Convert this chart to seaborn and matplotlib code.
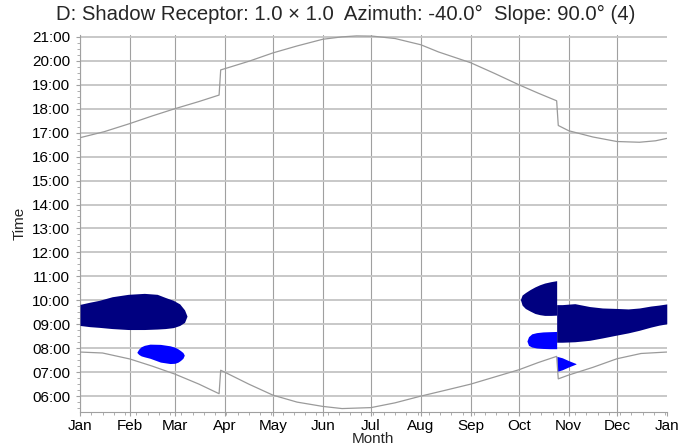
import numpy as np
import pandas as pd
import matplotlib
matplotlib.use("Agg")
import matplotlib.pyplot as plt
import seaborn as sns
from matplotlib.ticker import FixedLocator, MultipleLocator, FuncFormatter

# ---------------- data ----------------
month_labels = ["Jan", "Feb", "Mar", "Apr", "May", "Jun", "Jul", "Aug",
                "Sep", "Oct", "Nov", "Dec", "Jan"]
month_starts = [0, 31, 59, 90, 120, 151, 181, 212, 243, 273, 304, 334, 365]

sunrise_days = [0, 14, 31, 45, 59, 74, 86.5, 87.5, 90, 105, 120, 135, 151, 163,
                181, 196, 212, 227, 243, 258, 273, 285, 296.5, 297.5, 304, 319,
                334, 349, 365]
sunrise_hours = [7.84, 7.8, 7.55, 7.25, 6.92, 6.5, 6.1, 7.08, 7.0, 6.5, 6.04,
                 5.75, 5.57, 5.48, 5.52, 5.72, 6.0, 6.24, 6.5, 6.8, 7.1, 7.4,
                 7.66, 6.72, 6.88, 7.2, 7.56, 7.78, 7.84]

sunset_days = [0, 15, 31, 45, 59, 74, 86.5, 87.5, 90, 105, 120, 135, 151, 163,
               172, 182, 196, 212, 223, 243, 258, 273, 285, 296.5, 297.5, 304,
               319, 334, 348, 358, 365]
sunset_hours = [16.79, 17.04, 17.38, 17.7, 18.0, 18.3, 18.57, 19.62, 19.67,
                19.98, 20.33, 20.62, 20.9, 21.0, 21.04, 21.03, 20.93, 20.67,
                20.37, 19.92, 19.47, 19.0, 18.65, 18.33, 17.3, 17.08, 16.82,
                16.63, 16.6, 16.66, 16.76]

# shadow periods (navy = dark, blue = light)
navy1_days = [0, 6, 12, 20, 30, 40, 48, 53, 58, 62, 65, 66.5]
navy1_low = [8.95, 8.9, 8.87, 8.82, 8.78, 8.78, 8.8, 8.82, 8.86, 8.95, 9.08, 9.33]
navy1_high = [9.83, 9.92, 10.0, 10.15, 10.25, 10.29, 10.25, 10.12, 10.0, 9.85, 9.6, 9.35]

blue1_days = [35.4, 36.5, 38, 40, 43.5, 50, 56, 59, 61, 62.5, 64, 64.8]
blue1_low = [7.82, 7.74, 7.68, 7.64, 7.58, 7.42, 7.36, 7.37, 7.42, 7.49, 7.58, 7.7]
blue1_high = [7.84, 7.96, 8.06, 8.12, 8.17, 8.16, 8.1, 8.04, 7.97, 7.9, 7.82, 7.72]

navy2_days = [274, 275, 277, 280, 283, 286, 289, 293, 296.5]
navy2_low = [10.02, 9.8, 9.66, 9.55, 9.45, 9.4, 9.37, 9.37, 9.38]
navy2_high = [10.04, 10.22, 10.32, 10.45, 10.56, 10.65, 10.72, 10.78, 10.82]

blue2_days = [278, 279, 281, 284, 288, 292, 296.5]
blue2_low = [8.3, 8.12, 8.05, 8.01, 7.99, 7.98, 7.98]
blue2_high = [8.3, 8.48, 8.6, 8.65, 8.68, 8.69, 8.7]

navy3_days = [296.5, 300, 307.8, 317, 325, 334, 341, 348, 355, 360, 365]
navy3_low = [8.25, 8.25, 8.27, 8.33, 8.43, 8.55, 8.64, 8.75, 8.88, 8.96, 9.02]
navy3_high = [9.82, 9.82, 9.86, 9.74, 9.68, 9.66, 9.64, 9.68, 9.76, 9.8, 9.85]

blue3_days = [296.6, 300, 304, 308.5]
blue3_low = [7.03, 7.1, 7.22, 7.34]
blue3_high = [7.66, 7.6, 7.48, 7.36]

# ---------------- plot ----------------
sns.set_theme(style="white")
plt.rcParams["font.family"] = ["Liberation Sans", "DejaVu Sans"]

fig = plt.figure(figsize=(6.96, 4.48), dpi=100)
ax = fig.add_axes([0.115, 0.080, 0.843, 0.842])

NAVY = "#000080"
BLUE = "#0000FF"
for d, lo, hi, c in [(navy1_days, navy1_low, navy1_high, NAVY),
                     (blue1_days, blue1_low, blue1_high, BLUE),
                     (navy2_days, navy2_low, navy2_high, NAVY),
                     (blue2_days, blue2_low, blue2_high, BLUE),
                     (navy3_days, navy3_low, navy3_high, NAVY),
                     (blue3_days, blue3_low, blue3_high, BLUE)]:
    ax.fill_between(d, lo, hi, color=c, linewidth=0, zorder=3)

sun_df = pd.concat([
    pd.DataFrame({"day": sunrise_days, "hour": sunrise_hours, "kind": "sunrise"}),
    pd.DataFrame({"day": sunset_days, "hour": sunset_hours, "kind": "sunset"}),
])
sns.lineplot(data=sun_df, x="day", y="hour", units="kind", estimator=None,
             color="#9a9a9a", linewidth=0.9, sort=False, ax=ax, zorder=4)

ax.set_xlim(0, 365)
ax.set_ylim(5.33, 21.08)

ax.xaxis.set_major_locator(FixedLocator(month_starts))
ax.set_xticklabels(month_labels)
ax.xaxis.set_minor_locator(MultipleLocator(7))
ax.yaxis.set_major_locator(FixedLocator(list(range(6, 22))))
ax.yaxis.set_major_formatter(FuncFormatter(lambda v, p: f"{int(round(v)):02d}:00"))
ax.yaxis.set_minor_locator(MultipleLocator(0.25))

ax.tick_params(axis="both", which="major", labelsize=11, length=3,
               color="#a0a0a0", width=0.8, labelcolor="black")
ax.tick_params(axis="x", which="major", pad=2)
ax.tick_params(axis="y", which="major", pad=4)
ax.tick_params(axis="both", which="minor", length=2, color="#a0a0a0", width=0.6)
ax.tick_params(axis="x", which="both", bottom=True)
ax.tick_params(axis="y", which="both", left=True)

ax.grid(True, axis="x", which="major", color="#a0a0a0", linewidth=0.8, zorder=1)
ax.grid(True, axis="y", which="major", color="#c4c4c4", linewidth=1.3, zorder=1)
ax.set_axisbelow(True)
fig.canvas.draw()
ax.xaxis.get_gridlines()[-1].set_visible(False)

for s in ["top", "right"]:
    ax.spines[s].set_visible(False)
for s in ["left", "bottom"]:
    ax.spines[s].set_color("#a0a0a0")
    ax.spines[s].set_linewidth(0.8)

ax.set_xlabel("Month", fontsize=11, labelpad=-1)
ax.set_ylabel("Time", fontsize=11, labelpad=4)
fig.suptitle("D: Shadow Receptor: 1.0 \u00d7 1.0  Azimuth: -40.0\u00b0  Slope: 90.0\u00b0 (4)",
             fontsize=14.6, x=0.497, y=0.99, va="top")

fig.savefig("out.png", dpi=100)
